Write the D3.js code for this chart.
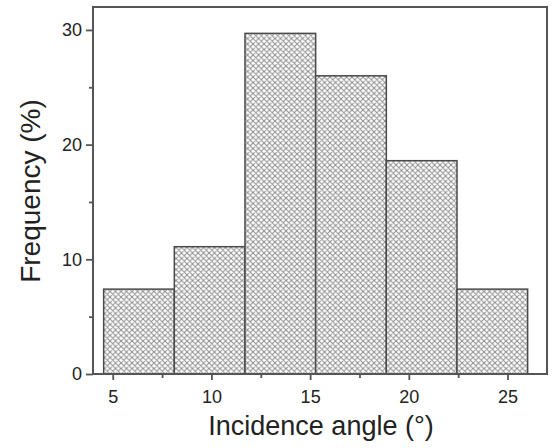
<!DOCTYPE html>
<html><head><meta charset="utf-8">
<script src="https://cdn.jsdelivr.net/npm/d3@7"></script>
<style>body{margin:0;background:#fff}svg{display:block}</style>
</head><body>
<script>
const binStart = [4.54, 8.12, 11.70, 15.28, 18.86, 22.44];
const binEnd   = [8.12, 11.70, 15.28, 18.86, 22.44, 26.02];
const frequency = [7.4, 11.1, 29.7, 26.0, 18.6, 7.4];
const xTicks = [5, 10, 15, 20, 25];
const xMinor = [7.5, 12.5, 17.5, 22.5];
const yTicks = [0, 10, 20, 30];
const yMinor = [5, 15, 25];
const xTitle = "Incidence angle (°)";
const yTitle = "Frequency (%)";

const W = 553, H = 448;
const L = 93, R = 547, T = 7, B = 374;
const svg = d3.select("body").append("svg").attr("width", W).attr("height", H);
const x = d3.scaleLinear().domain([4, 27]).range([L, R]);
const y = d3.scaleLinear().domain([0, 32]).range([B, T]);
const axisColor = "#555";
const font = "'Liberation Sans', Arial, sans-serif";

const defs = svg.append("defs");
const pat = defs.append("pattern").attr("id", "hatch").attr("patternUnits", "userSpaceOnUse")
  .attr("width", 5.5).attr("height", 5.5);
pat.append("rect").attr("width", 5.5).attr("height", 5.5).attr("fill", "#fff");
pat.append("path").attr("d", "M0,0 L5.5,5.5 M5.5,0 L0,5.5 M-1,4.5 L1,6.5 M4.5,-1 L6.5,1 M-1,1 L1,-1 M4.5,6.5 L6.5,4.5")
  .attr("stroke", "#8f8f8f").attr("stroke-width", 1.05);

const data = frequency.map((v, i) => ({s: binStart[i], e: binEnd[i], v}));
svg.append("g").selectAll("rect").data(data).join("rect")
  .attr("x", d => x(d.s)).attr("width", d => x(d.e) - x(d.s))
  .attr("y", d => y(d.v)).attr("height", d => y(0) - y(d.v))
  .attr("fill", "url(#hatch)").attr("stroke", "#4a4a4a").attr("stroke-width", 1.5);

svg.append("rect").attr("x", L).attr("y", T).attr("width", R - L).attr("height", B - T)
  .attr("fill", "none").attr("stroke", axisColor).attr("stroke-width", 2);

const xAxis = svg.append("g").attr("transform", `translate(0,${B})`)
  .call(d3.axisBottom(x).tickValues(xTicks).tickSize(6).tickPadding(10).tickFormat(d3.format("d")));
xAxis.select(".domain").remove();
svg.append("g").attr("transform", `translate(0,${B})`)
  .call(d3.axisBottom(x).tickValues(xMinor).tickSize(4).tickFormat(""))
  .select(".domain").remove();

const yAxis = svg.append("g").attr("transform", `translate(${L},0)`)
  .call(d3.axisLeft(y).tickValues(yTicks).tickSize(7).tickPadding(4).tickFormat(d3.format("d")));
yAxis.select(".domain").remove();
svg.append("g").attr("transform", `translate(${L},0)`)
  .call(d3.axisLeft(y).tickValues(yMinor).tickSize(4).tickFormat(""))
  .select(".domain").remove();

svg.selectAll(".tick line").attr("stroke", axisColor).attr("stroke-width", 1.8);
svg.selectAll(".tick text").attr("font-family", font).attr("font-size", 18).attr("fill", "#222");

svg.append("text").attr("x", (L + R) / 2 + 1).attr("y", 435).attr("text-anchor", "middle")
  .attr("font-family", font).attr("font-size", 27).attr("fill", "#222").text(xTitle);
svg.append("text").attr("transform", `translate(40,191) rotate(-90)`)
  .attr("text-anchor", "middle").attr("font-family", font).attr("font-size", 28).attr("fill", "#222").text(yTitle);
</script>
</body></html>
